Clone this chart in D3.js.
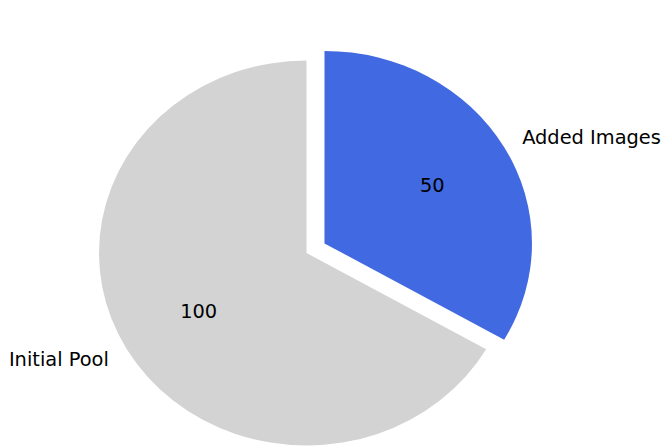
<!DOCTYPE html>
<html>
<head>
<meta charset="utf-8">
<script src="https://cdn.jsdelivr.net/npm/d3@7"></script>
<style>
  html, body { margin: 0; padding: 0; background: #fff; }
  svg { display: block; }
  text { font-family: "DejaVu Sans", sans-serif; font-size: 19.4px; fill: #000; }
</style>
</head>
<body>
<svg id="chart" width="666" height="448"></svg>
<script>
// Slice data
const labels = ["Added Images", "Initial Pool"];
const values = [50, 100];
const colors = ["#4169e1", "#d3d3d3"];
const explode = [0.1, 0];

const width = 666, height = 448;
const cx = 306.5, cy = 253;
const rx = 207.5, ry = 192.5;   // axes are not equal-aspect, so the pie is slightly wide

const svg = d3.select("#chart");

// Start at 12 o'clock and go clockwise
const pie = d3.pie().sort(null).value(d => d.value).startAngle(0).endAngle(2 * Math.PI);
const data = labels.map((l, i) => ({ label: l, value: values[i], color: colors[i], explode: explode[i] }));
const arcs = pie(data);

const arc = d3.arc().innerRadius(0).outerRadius(1);

arcs.forEach(a => {
  const mid = (a.startAngle + a.endAngle) / 2;
  const ux = Math.sin(mid), uy = -Math.cos(mid);
  const ox = cx + a.data.explode * rx * ux;
  const oy = cy + a.data.explode * ry * uy;

  svg.append("path")
    .attr("d", arc(a))
    .attr("transform", `translate(${ox},${oy}) scale(${rx},${ry})`)
    .attr("fill", a.data.color);

  // Category label outside the slice
  svg.append("text")
    .attr("x", ox + 1.1 * rx * ux)
    .attr("y", oy + 1.1 * ry * uy)
    .attr("dy", "0.35em")
    .attr("text-anchor", ux >= 0 ? "start" : "end")
    .text(a.data.label);

  // Value label inside the slice
  svg.append("text")
    .attr("x", ox + 0.6 * rx * ux)
    .attr("y", oy + 0.6 * ry * uy)
    .attr("dy", "0.35em")
    .attr("text-anchor", "middle")
    .text(a.data.value);
});
</script>
</body>
</html>
